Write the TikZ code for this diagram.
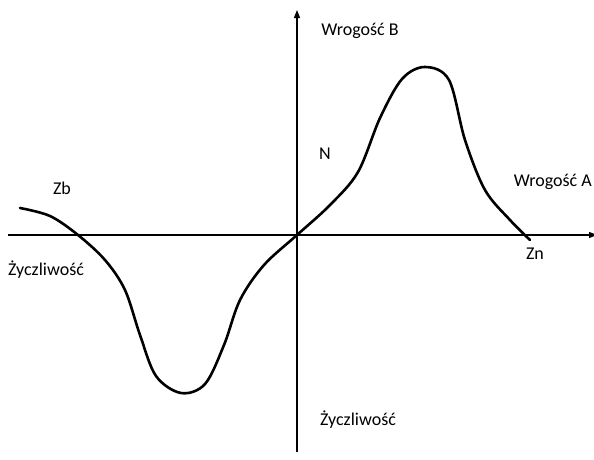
\documentclass[tikz,border=0pt]{standalone}
\usepackage{fontspec}
\setmainfont{Carlito}
\usetikzlibrary{arrows.meta}

\begin{document}
\begin{tikzpicture}[
    x=1pt, y=-1pt,
    font=\fontsize{18}{21}\selectfont,
    axis/.style={-{Triangle[length=8pt, width=6pt]}, line width=1.3pt, color=black},
    curve/.style={line width=2.6pt, line cap=round, color=black},
    lbl/.style={inner sep=0pt},
]

% --- Canvas ---
\useasboundingbox (0,0) rectangle (594,459);

% --- Axes ---
\coordinate (xstart) at (8,235);
\coordinate (xend) at (597,235);
\coordinate (ystart) at (297,452);
\coordinate (yend) at (297,10);
\draw [axis] (xstart) -- (xend);
\draw [axis] (ystart) -- (yend);

% --- Curve ---
\draw [curve] plot[smooth, tension=0.55] coordinates {
    (20,208) (50,216) (78,235) (105,260) (125,290) (140,335) (156,376)
    (181,393) (205,384) (224,345) (240,300) (264,265) (297,235)
    (330,205) (358,172) (380,118) (402,79) (425,67) (449,80)
    (465,140) (485,190) (510,220) (530,240)};

% --- Labels ---
\node (zb) [lbl] at (62,188) {Zb};
\node (zycleft) [lbl] at (46,270) {Życzliwość};
\node (wrogb) [lbl] at (360,31) {Wrogość B};
\node (n) [lbl] at (325,154) {N};
\node (wroga) [lbl, anchor=east] at (592,182) {Wrogość A};
\node (zn) [lbl] at (535,254) {Zn};
\node (zycbottom) [lbl] at (358,420) {Życzliwość};

\end{tikzpicture}
\end{document}
